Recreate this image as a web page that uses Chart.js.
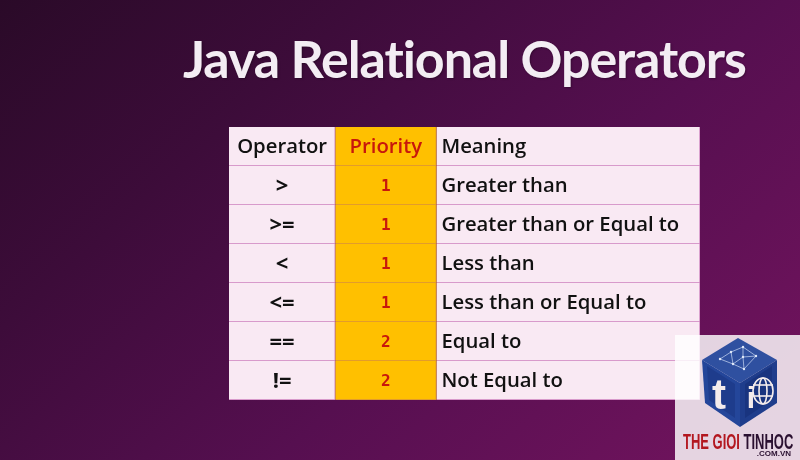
<!DOCTYPE html>
<html>
<head>
<meta charset="utf-8">
<title>Java Relational Operators</title>
<script src="https://cdn.jsdelivr.net/npm/chart.js@4/dist/chart.umd.min.js"></script>
<style>
html, body { margin: 0; padding: 0; }
body {
    width: 800px; height: 460px; overflow: hidden; position: relative;
    background: linear-gradient(138deg, #2a0a28 0%, #3d0c3a 28%, #560f50 60%, #74145f 100%);
}
canvas { position: absolute; left: 0; top: 0; }
#title {
    position: absolute; left: 183px; top: 27px; white-space: nowrap;
    font: 700 52px "Lato", sans-serif; letter-spacing: -1.1px; color: #f3edf3;
    text-shadow: 1px 1px 2px rgba(0, 0, 0, .3);
}
#panel { position: absolute; left: 675px; top: 335px; width: 125px; height: 125px; background: rgba(255, 255, 255, .82); }
#logo { position: absolute; left: 675px; top: 335px; }
#brand {
    position: absolute; left: 683px; top: 429px; white-space: nowrap;
    font: 700 22px "Liberation Sans", sans-serif; color: #b3171f;
    transform: scaleX(.59); transform-origin: left top;
}
#brand span { color: #2a1030; }
#vn { position: absolute; right: 9px; top: 449px; font: 700 8px "Liberation Sans", sans-serif; color: #2a1030; }
</style>
</head>
<body>
<canvas id="myChart" width="800" height="460"></canvas>
<div id="title">Java Relational Operators</div>
<div id="panel"></div>
<svg id="logo" width="125" height="100" viewBox="675 335 125 100">
    <polygon points="738,338 777,360 740,383 702,360" fill="#2f50a0"/>
    <polygon points="702,360 740,383 740,427 705,403" fill="#24469a"/>
    <polygon points="777,360 740,383 740,427 777,403" fill="#1f3d8c"/>
    <polygon points="707,366 735,384 735,418 709,400" fill="#1e3c8c"/>
    <polygon points="772,366 745,384 745,418 772,400" fill="#19347f"/>
    <g fill="none" stroke="#b8c8e8" stroke-width=".8">
        <polyline points="720,359 731,352 743,347 756,356 744,369 733,364 720,359"/>
        <polyline points="731,352 733,364 743,357 743,347"/>
        <polyline points="743,357 756,356"/>
        <polyline points="743,357 744,369"/>
    </g>
    <g fill="#dfe8f8">
        <circle cx="731" cy="352" r="1.2"/><circle cx="743" cy="347" r="1.2"/><circle cx="756" cy="356" r="1.2"/>
        <circle cx="733" cy="364" r="1.2"/><circle cx="743" cy="357" r="1.2"/><circle cx="744" cy="369" r="1.2"/><circle cx="720" cy="359" r="1.2"/>
    </g>
    <text x="719" y="409" text-anchor="middle" font-family="Liberation Sans" font-weight="700" font-size="42" fill="#f4ecec">t</text>
    <g fill="none" stroke="#f4ecec" stroke-width="1.6">
        <ellipse cx="763" cy="391" rx="10" ry="13"/>
        <ellipse cx="763" cy="391" rx="4" ry="13"/>
        <line x1="753" y1="385" x2="773" y2="385"/>
        <line x1="753" y1="396" x2="773" y2="396"/>
    </g>
    <text x="751" y="408" text-anchor="middle" font-family="Liberation Sans" font-weight="700" font-size="30" fill="#f4ecec">i</text>
</svg>
<div id="brand">THE GIOI <span>TINHOC</span></div>
<div id="vn">.COM.VN</div>

<script>
var headers = ['Operator', 'Priority', 'Meaning'];
var operators = ['>', '>=', '<', '<=', '==', '!='];
var priorities = [1, 1, 1, 1, 2, 2];
var meanings = ['Greater than', 'Greater than or Equal to', 'Less than', 'Less than or Equal to', 'Equal to', 'Not Equal to'];
var columnSpans = [106, 101, 263];

var rows = [headers[0]].concat(operators);

function spanData(i) {
    return rows.map(function () { return columnSpans[i]; });
}

function cellText(col, row) {
    if (row === 0) return headers[col];
    if (col === 0) return operators[row - 1];
    if (col === 1) return String(priorities[row - 1]);
    return meanings[row - 1];
}

// writes the table text on top of the bars
var cellLabels = {
    id: 'cellLabels',
    afterDatasetsDraw: function (chart) {
        var ctx = chart.ctx;
        ctx.save();
        ctx.textBaseline = 'middle';
        chart.data.datasets.forEach(function (ds, col) {
            chart.getDatasetMeta(col).data.forEach(function (bar, row) {
                var left = bar.base;
                var mid = (bar.base + bar.x) / 2;
                ctx.fillStyle = '#111111';
                ctx.font = '600 20.3px "Open Sans", sans-serif';
                ctx.textAlign = col === 2 ? 'left' : 'center';
                if (col === 0 && row > 0) ctx.font = '700 22px "Open Sans", sans-serif';
                if (col === 1) {
                    ctx.fillStyle = '#c8170c';
                    if (row > 0) ctx.font = '700 16px "DejaVu Sans Mono", monospace';
                }
                ctx.fillText(cellText(col, row), col === 2 ? left + 5 : mid, bar.y + 1);
            });
        });
        ctx.restore();
    }
};

var ctx = document.getElementById('myChart');

var cellBorder = { top: 0, left: 0, bottom: 1, right: 1 };

var data = {
    labels: rows,
    datasets: [
        { label: headers[0], data: spanData(0), backgroundColor: '#f9e9f3', borderColor: '#cc7fbe', borderWidth: cellBorder, borderSkipped: false },
        { label: headers[1], data: spanData(1), backgroundColor: '#ffc000', borderColor: '#d9903a', borderWidth: cellBorder, borderSkipped: false },
        { label: headers[2], data: spanData(2), backgroundColor: '#f9e9f3', borderColor: '#cc7fbe', borderWidth: cellBorder, borderSkipped: false }
    ]
};

var option = {
    indexAxis: 'y',
    responsive: false,
    animation: false,
    devicePixelRatio: 1,
    layout: { padding: { left: 229, right: 100, top: 127, bottom: 60 } },
    datasets: { bar: { categoryPercentage: 1, barPercentage: 1 } },
    scales: {
        x: { display: false, stacked: true, min: 0, max: 470 },
        y: { display: false, stacked: true }
    },
    plugins: {
        legend: { display: false },
        tooltip: { enabled: false }
    }
};

var myChart = new Chart(ctx, {
    type: 'bar',
    data: data,
    options: option,
    plugins: [cellLabels]
});
</script>
</body>
</html>
